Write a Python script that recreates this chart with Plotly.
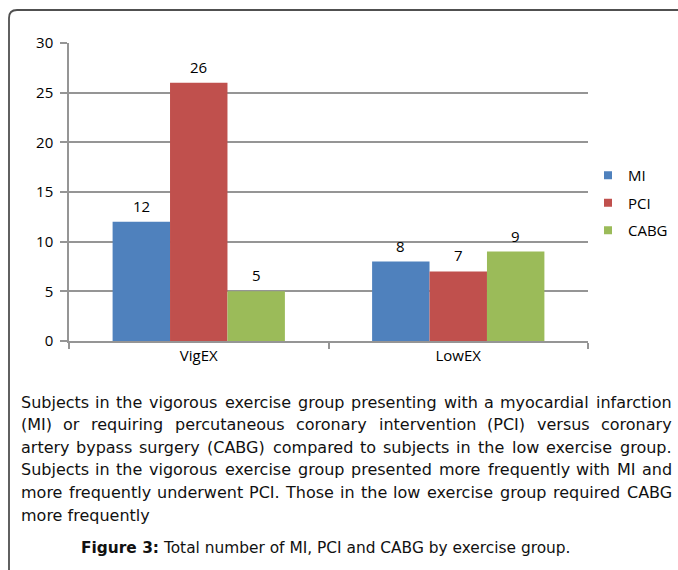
import plotly.graph_objects as go

# ---------------- data ----------------
categories = ["VigEX", "LowEX"]
mi_values = [12, 8]
pci_values = [26, 7]
cabg_values = [5, 9]
series_names = ["MI", "PCI", "CABG"]
y_tick_values = [0, 5, 10, 15, 20, 25, 30]

caption_lines = [
    "Subjects in the vigorous exercise group presenting with a myocardial infarction",
    "(MI) or requiring percutaneous coronary intervention (PCI) versus coronary",
    "artery bypass surgery (CABG) compared to subjects in the low exercise group.",
    "Subjects in the vigorous exercise group presented more frequently with MI and",
    "more frequently underwent PCI. Those in the low exercise group required CABG",
    "more frequently",
]
figure_label = "Figure 3:"
figure_title = "Total number of MI, PCI and CABG by exercise group."

# ---------------- layout helpers ----------------
W, H = 678, 570
PL, PR, PT, PB = 69, 588, 43, 341          # plot area in pixels
colors = ["#4F81BD", "#C0504D", "#9BBB59"]
grid_col = "#959595"
BARGAP = 0.336
CHART_FONT = 15


def px(x):
    return (x - PL) / (PR - PL)


def py(y):
    return (PB - y) / (PB - PT)


# DejaVu Sans advance widths (em)
DV = {" ": .318, "(": .390, ")": .390, ".": .318, ",": .318, ":": .337,
      "A": .684, "B": .686, "C": .698, "D": .770, "E": .632, "F": .575, "G": .775,
      "H": .752, "I": .295, "M": .863, "P": .603, "S": .635, "T": .611,
      "a": .613, "b": .635, "c": .550, "d": .635, "e": .615, "f": .352, "g": .635,
      "h": .634, "i": .278, "j": .278, "k": .579, "l": .278, "m": .974, "n": .634,
      "o": .612, "p": .635, "q": .635, "r": .411, "s": .521, "t": .392, "u": .634,
      "v": .592, "w": .818, "x": .592, "y": .592, "z": .525}


def text_w(s, size):
    return sum(DV.get(ch, .6) for ch in s) * size


fig = go.Figure()
series = [mi_values, pci_values, cabg_values]
for name, vals, c in zip(series_names, series, colors):
    fig.add_trace(go.Bar(x=categories, y=vals, name=name,
                         marker=dict(color=c, line=dict(width=0)),
                         showlegend=False, hoverinfo="x+y+name"))

for name, c in zip(series_names, colors):
    fig.add_trace(go.Scatter(x=[None], y=[None], mode="markers", name=name,
                             marker=dict(symbol="square", size=8, color=c),
                             legendgroup=name, showlegend=True))

annotations = []
# bar value labels
bw = (1 - BARGAP) / len(series)
for i, cat in enumerate(categories):
    for j, vals in enumerate(series):
        annotations.append(dict(
            x=i + (j - (len(series) - 1) / 2) * bw, y=vals[i], xref="x", yref="y",
            text=str(vals[i]), showarrow=False, yanchor="middle", yshift=16,
            font=dict(family="Open Sans", size=CHART_FONT, color="#000000")))

# caption, justified lines
CAP_SIZE = 16
LEFT, RIGHT = 20.5, 672
line_centers = [402 + k * 22.6 for k in range(len(caption_lines))]
for k, (line, yc) in enumerate(zip(caption_lines, line_centers)):
    words = line.split(" ")
    font = dict(family="DejaVu Sans", size=CAP_SIZE, color="#111111")
    if k == len(caption_lines) - 1:
        annotations.append(dict(x=px(LEFT), y=py(yc), xref="paper", yref="paper",
                                text=line, showarrow=False, xanchor="left",
                                yanchor="middle", font=font,
                                borderpad=0, borderwidth=0))
        continue
    widths = [text_w(w, CAP_SIZE) for w in words]
    gap = (RIGHT - LEFT - sum(widths)) / (len(words) - 1)
    xcur = LEFT
    for n, (wd, ww) in enumerate(zip(words, widths)):
        if n == 0:
            ax, anc = xcur, "left"
        elif n == len(words) - 1:
            ax, anc = RIGHT, "right"
        else:
            ax, anc = xcur + ww / 2, "center"
        annotations.append(dict(x=px(ax), y=py(yc), xref="paper", yref="paper",
                                text=wd, showarrow=False, xanchor=anc,
                                yanchor="middle", font=font,
                                borderpad=0, borderwidth=0))
        xcur += ww + gap

annotations.append(dict(x=px(326), y=py(548), xref="paper", yref="paper",
                        text="<b>" + figure_label + "</b> " + figure_title,
                        showarrow=False, xanchor="center", yanchor="middle",
                        font=dict(family="DejaVu Sans", size=15.4, color="#111111")))

shapes = [dict(type="path", xref="paper", yref="paper",
               path=(f"M {px(9)},{py(620)} L {px(9)},{py(18)} "
                     f"Q {px(9)},{py(10)} {px(17)},{py(10)} L {px(720)},{py(10)}"),
               line=dict(color="#505050", width=1.8))]

fig.update_layout(
    width=W, height=H, autosize=False,
    margin=dict(l=PL, r=W - PR, t=PT, b=H - PB, pad=0, autoexpand=False),
    paper_bgcolor="white", plot_bgcolor="white",
    barmode="group", bargap=BARGAP, bargroupgap=0,
    font=dict(family="Open Sans", size=CHART_FONT, color="#000000"),
    legend=dict(x=px(588), y=py(203), xanchor="left", yanchor="middle",
                font=dict(family="Open Sans", size=CHART_FONT, color="#000000"),
                tracegroupgap=5, bgcolor="rgba(0,0,0,0)"),
    annotations=annotations, shapes=shapes,
    xaxis=dict(type="category", range=[-0.5, 1.5], showgrid=False,
               showline=True, linecolor=grid_col, linewidth=1.5,
               ticks="outside", tickson="boundaries", ticklen=6,
               tickcolor=grid_col, tickwidth=1.5,
               tickfont=dict(family="Open Sans", size=CHART_FONT, color="#000000")),
    yaxis=dict(range=[0, 30], tickvals=y_tick_values, showgrid=True,
               gridcolor=grid_col, gridwidth=1.5, zeroline=False,
               showline=True, linecolor=grid_col, linewidth=1.5,
               ticks="outside", ticklen=7, tickcolor=grid_col, tickwidth=1.5,
               ticklabelstandoff=4,
               tickfont=dict(family="Open Sans", size=CHART_FONT, color="#000000")),
)

fig.write_html("out.html",
               config={"displayModeBar": False},
               post_script="document.body.style.margin='0';document.body.style.overflow='hidden';")
